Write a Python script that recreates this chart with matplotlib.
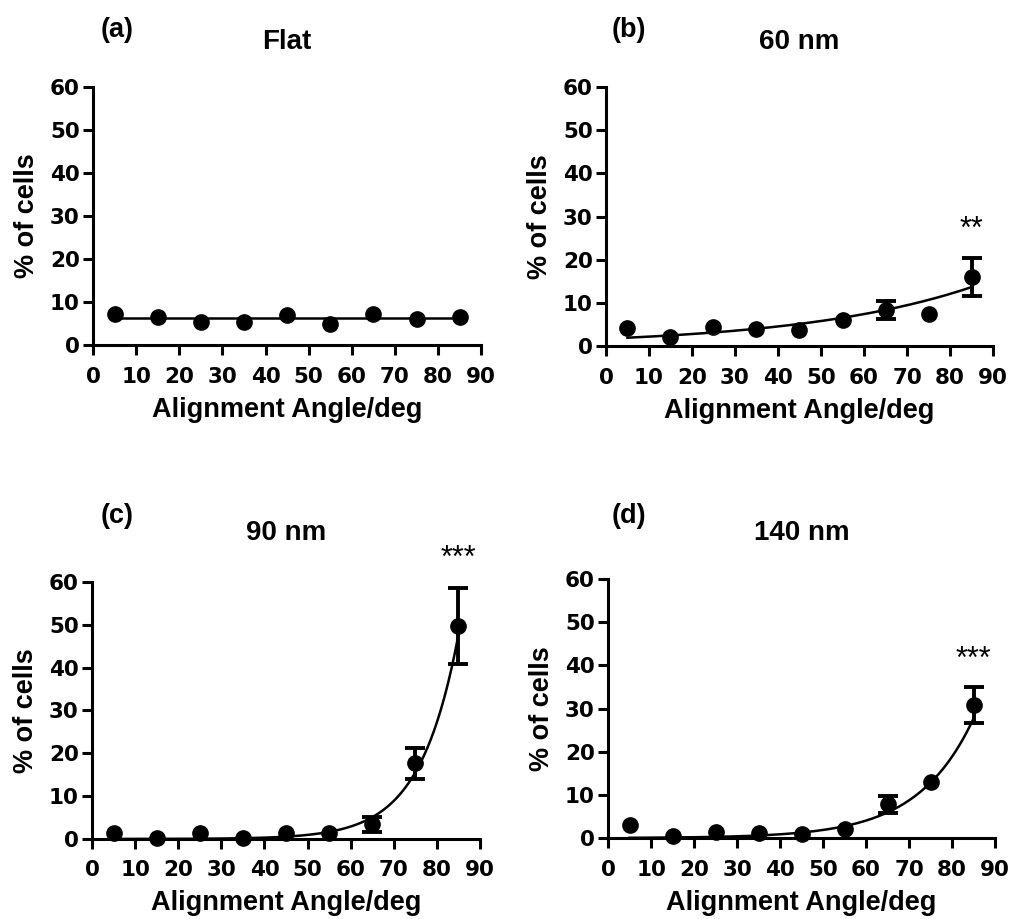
import numpy as np
import matplotlib
matplotlib.use("Agg")
import matplotlib.pyplot as plt

plt.rcParams['font.family'] = ['Liberation Sans', 'DejaVu Sans']
plt.rcParams['font.weight'] = 'bold'

# alignment angle bins (deg)
angles = [5, 15, 25, 35, 45, 55, 65, 75, 85]

# % of cells per bin, one list per substrate
flat_pct = [7.2, 6.4, 5.4, 5.4, 7.0, 4.9, 7.2, 6.1, 6.6]
nm60_pct = [4.2, 2.2, 4.4, 3.9, 3.8, 6.1, 8.4, 7.3, 16.0]
nm90_pct = [1.5, 0.2, 1.5, 0.2, 1.5, 1.5, 3.4, 17.7, 49.8]
nm140_pct = [3.0, 0.4, 1.5, 1.2, 1.0, 2.2, 7.8, 13.0, 30.8]

# error bars (SEM), nan where no bar is drawn
nan = np.nan
flat_err = [nan] * 9
nm60_err = [nan, nan, nan, nan, nan, nan, 2.1, nan, 4.4]
nm90_err = [nan, nan, nan, nan, nan, nan, 1.8, 3.6, 8.9]
nm140_err = [nan, nan, nan, nan, nan, nan, 2.0, nan, 4.1]

# exponential growth fits y = A * exp(k * x)
fit_amp = [6.2, 1.7, 0.0035, 0.0398]
fit_rate = [0.0, 0.0245, 0.112, 0.077]

panel_tags = ['(a)', '(b)', '(c)', '(d)']
titles = ['Flat', '60 nm', '90 nm', '140 nm']
stars = ['', '**', '***', '***']
star_y = [0, 25.0, 63.5, 39.4]

values = [flat_pct, nm60_pct, nm90_pct, nm140_pct]
errors = [flat_err, nm60_err, nm90_err, nm140_err]

positions = [
    [0.092, 0.6246, 0.384, 0.2807],
    [0.5994, 0.6235, 0.3828, 0.2818],
    [0.091, 0.0871, 0.3838, 0.2796],
    [0.6014, 0.0881, 0.3828, 0.2819],
]
tag_xy = [(0.062, 1.22), (0.059, 1.22), (0.064, 1.255), (0.054, 1.243)]
title_y = [1.174, 1.174, 1.19, 1.178]

fig = plt.figure(figsize=(10.11, 9.19), dpi=100)

for i in range(4):
    ax = fig.add_axes(positions[i])
    x = np.array(angles, dtype=float)
    y = np.array(values[i], dtype=float)
    e = np.array(errors[i], dtype=float)

    # fitted curve
    xf = np.linspace(5, 85, 200)
    yf = fit_amp[i] * np.exp(fit_rate[i] * xf)
    ax.plot(xf, yf, color='black', lw=1.8, zorder=2, clip_on=False)

    # error bars only where present
    has_err = ~np.isnan(e)
    if has_err.any():
        ax.errorbar(x[has_err], y[has_err], yerr=e[has_err], fmt='none',
                    ecolor='black', elinewidth=2.8, capsize=7, capthick=2.8,
                    zorder=3, clip_on=False)

    ax.plot(x, y, 'o', color='black', ms=11, zorder=4, clip_on=False)

    ax.set_xlim(0, 90)
    ax.set_ylim(0, 60)
    ax.set_xticks(range(0, 91, 10))
    ax.set_yticks(range(0, 61, 10))

    for side in ['top', 'right']:
        ax.spines[side].set_visible(False)
    for side in ['left', 'bottom']:
        ax.spines[side].set_linewidth(2.2)
    ax.tick_params(axis='both', direction='out', length=7.5, width=2.2)
    ax.tick_params(axis='x', pad=8)
    ax.tick_params(axis='y', pad=2)
    for lab in ax.get_xticklabels() + ax.get_yticklabels():
        lab.set_family('DejaVu Sans')
        lab.set_fontweight('bold')
        lab.set_fontsize(15.5)

    ax.set_xlabel('Alignment Angle/deg', fontsize=19.5, fontweight='bold')
    ax.set_ylabel('% of cells', fontsize=19.5, fontweight='bold')
    ax.xaxis.set_label_coords(0.5, -0.2)
    ax.yaxis.set_label_coords(-0.137, 0.5)

    ax.text(0.5, title_y[i], titles[i], transform=ax.transAxes,
            ha='center', va='center', fontsize=20, fontweight='bold')
    ax.text(tag_xy[i][0], tag_xy[i][1], panel_tags[i], transform=ax.transAxes,
            ha='center', va='center', fontsize=19.5, fontweight='bold')
    if stars[i]:
        ax.text(85, star_y[i], stars[i], ha='center', va='baseline',
                fontsize=22, fontweight='normal', clip_on=False)

fig.savefig('out.png', dpi=100)
